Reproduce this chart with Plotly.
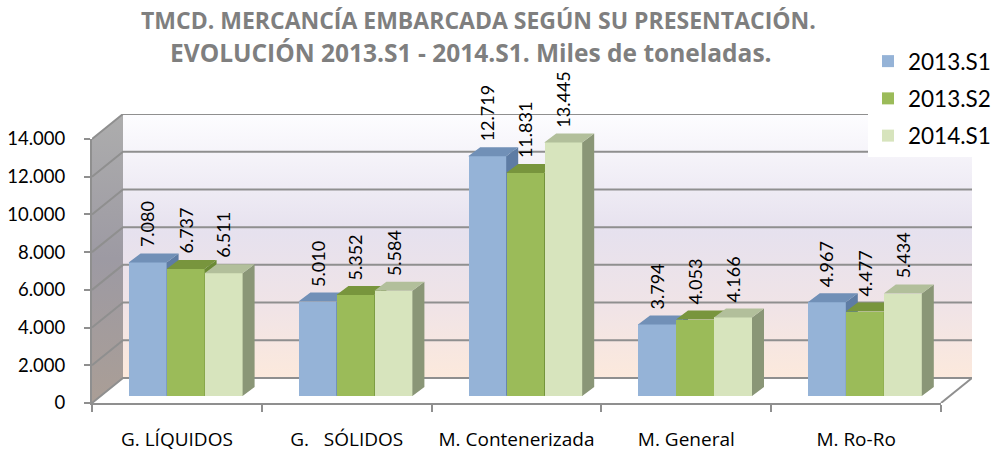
import plotly.graph_objects as go

# ---------------- data ----------------
categories = ["G. LÍQUIDOS", "G.\u00a0\u00a0 SÓLIDOS", "M. Contenerizada", "M. General", "M. Ro-Ro"]
series_names = ["2013.S1", "2013.S2", "2014.S1"]
v_2013_s1 = [7080, 5010, 12719, 3794, 4967]
v_2013_s2 = [6737, 5352, 11831, 4053, 4477]
v_2014_s1 = [6511, 5584, 13445, 4166, 5434]
y_ticks = [0, 2000, 4000, 6000, 8000, 10000, 12000, 14000]
title_line1 = "TMCD. MERCANCÍA EMBARCADA SEGÚN SU PRESENTACIÓN."
title_line2 = "EVOLUCIÓN 2013.S1 - 2014.S1. Miles de toneladas."

series_values = [v_2013_s1, v_2013_s2, v_2014_s1]
front_colors = ["#95b3d7", "#9bbb59", "#d7e4bd"]
top_colors = ["#7190b7", "#78953d", "#b2bf9b"]
side_colors = ["#5e7ca4", "#6b8a35", "#8a9677"]

# ---------------- geometry (pixels) ----------------
W, H = 992, 453
FONT = "Lato"
TFONT = "Open Sans"


def fx(p):
    return p / W


def fy(p):
    return 1 - p / H


FX0, FX1 = 92, 941      # front plane x extent
FY0, FY1 = 403, 139     # front plane y of 0 and of max
YMAX = y_ticks[-1]
NCAT = len(categories)
ux = (FX1 - FX0) / NCAT
uy = (FY0 - FY1) / YMAX
DX, DY = 31, 25           # full depth of the 3D box
dxu, dyu = DX / ux, DY / uy
BX, BY = 8.7, 7           # front of bars (depth position)
BDX, BDY = 12, 9          # depth of each bar
bdxu, bdyu = BDX / ux, BDY / uy
BW = 38 / ux              # bar width in category units

fig = go.Figure()

# ---------------- box (walls, floor, grid) on x/y ----------------
L, R = -0.5, NCAT - 0.5
fig.add_trace(go.Scatter(
    x=[L, R, R, L, L], y=[0, 0, YMAX, YMAX, 0], mode="lines", fill="toself",
    line=dict(width=0), fillgradient=dict(type="vertical", colorscale=[
        [0, "#fce9dc"], [0.25, "#f1e4e6"], [0.55, "#e6e1ee"], [1, "#fdfdff"]]),
    showlegend=False, hoverinfo="skip", xaxis="x", yaxis="y"))
fig.add_trace(go.Scatter(
    x=[L - dxu, L, L, L - dxu, L - dxu], y=[-dyu, 0, YMAX, YMAX - dyu, -dyu],
    mode="lines", fill="toself", line=dict(width=0),
    fillgradient=dict(type="vertical", colorscale=[
        [0, "#aa9e96"], [0.5, "#9d9aa3"], [1, "#adadad"]]),
    showlegend=False, hoverinfo="skip", xaxis="x", yaxis="y"))
fig.add_trace(go.Scatter(
    x=[L - dxu, R - dxu, R, L, L - dxu], y=[-dyu, -dyu, 0, 0, -dyu],
    mode="lines", fill="toself", fillcolor="#ffffff", line=dict(width=0),
    showlegend=False, hoverinfo="skip", xaxis="x", yaxis="y"))
gx, gy = [], []
for v in y_ticks:
    gx += [L - dxu, L, R, None]
    gy += [v - dyu, v, v, None]
gx += [R - dxu, R, None]
gy += [-dyu, 0, None]
fig.add_trace(go.Scatter(
    x=gx, y=gy, mode="lines", line=dict(color="#8f8f8f", width=2),
    showlegend=False, hoverinfo="skip", xaxis="x", yaxis="y"))

# ---------------- bars: one subplot per series (drawing order) ----------------
annotations = []
for s, (name, vals) in enumerate(zip(series_names, series_values)):
    ax = s + 2
    xa, ya = f"x{ax}", f"y{ax}"
    off = (s - 1.5) * BW
    fig.add_trace(go.Bar(
        x=list(range(NCAT)), y=vals, name=name, width=BW, offset=off,
        marker=dict(color=front_colors[s], line=dict(width=0)),
        xaxis=xa, yaxis=ya, legendgroup=name, showlegend=True))
    sx, sy, tx, ty = [], [], [], []
    for i, v in enumerate(vals):
        xl = i + off
        xr = xl + BW
        sx += [xr, xr + bdxu, xr + bdxu, xr, xr, None]
        sy += [0, bdyu, v + bdyu, v, 0, None]
        tx += [xl, xl + bdxu, xr + bdxu, xr, xl, None]
        ty += [v, v + bdyu, v + bdyu, v, v, None]
        annotations.append(dict(
            x=xl + BW / 2, y=v + bdyu, xref=xa, yref=ya,
            text=f"{v:,}".replace(",", "."), textangle=-90, showarrow=False,
            xanchor="center", yanchor="bottom", yshift=4,
            font=dict(family=FONT, size=18, color="#000000")))
    fig.add_trace(go.Scatter(
        x=sx, y=sy, mode="lines", fill="toself", fillcolor=side_colors[s],
        line=dict(width=0), showlegend=False, hoverinfo="skip",
        xaxis=xa, yaxis=ya, cliponaxis=False))
    fig.add_trace(go.Scatter(
        x=tx, y=ty, mode="lines", fill="toself", fillcolor=top_colors[s],
        line=dict(width=0), showlegend=False, hoverinfo="skip",
        xaxis=xa, yaxis=ya, cliponaxis=False))

# ---------------- front axes (ticks and labels) ----------------
fig.add_trace(go.Scatter(x=[0], y=[0], mode="markers", marker=dict(opacity=0),
                         showlegend=False, hoverinfo="skip", xaxis="x5", yaxis="y5"))

hidden = dict(visible=False, showgrid=False, zeroline=False, fixedrange=True)
layout_axes = dict(
    xaxis=dict(hidden, domain=[fx(FX0), fx(FX1 + DX)], range=[L - dxu, R], anchor="y"),
    yaxis=dict(hidden, domain=[fy(FY0), fy(FY1 - DY)], range=[-dyu, YMAX], anchor="x"),
)
for s in range(3):
    ax = s + 2
    layout_axes[f"xaxis{ax}"] = dict(hidden, domain=[fx(FX0 + BX), fx(FX1 + BX)],
                                     range=[L, R], anchor=f"y{ax}")
    layout_axes[f"yaxis{ax}"] = dict(hidden, domain=[fy(FY0 - BY), fy(FY1 - BY)],
                                     range=[0, YMAX], anchor=f"x{ax}")
layout_axes["xaxis5"] = dict(
    domain=[fx(FX0), fx(FX1)], range=[L, R], anchor="y5",
    tickmode="array", tickvals=list(range(NCAT)), ticktext=categories,
    ticks="", showgrid=False, zeroline=False, showline=True,
    linecolor="#8f8f8f", linewidth=2, ticklabelstandoff=18,
    tickfont=dict(family=TFONT, size=19, color="#000000"),
    minor=dict(tickmode="array", tickvals=[i - 0.5 for i in range(NCAT + 1)],
               ticks="outside", ticklen=7, tickwidth=2, tickcolor="#8f8f8f",
               showgrid=False),
    fixedrange=True, automargin=False)
layout_axes["yaxis5"] = dict(
    domain=[fy(FY0), fy(FY1)], range=[0, YMAX], anchor="x5",
    tickmode="array", tickvals=y_ticks, tickformat=",d",
    ticks="outside", ticklen=6, tickwidth=2, tickcolor="#8f8f8f",
    showgrid=False, zeroline=False, showline=True, linecolor="#8f8f8f",
    linewidth=2, ticklabelstandoff=15, automargin=False,
    tickfont=dict(family=FONT, size=18.5, color="#000000"), fixedrange=True)

annotations.append(dict(text=title_line1, x=fx(478), y=fy(20), xref="paper", yref="paper",
                        showarrow=False, xanchor="center", yanchor="middle",
                        font=dict(family=TFONT, size=23, color="#7f7f7f", weight="bold")))
annotations.append(dict(text=title_line2, x=fx(471), y=fy(52), xref="paper", yref="paper",
                        showarrow=False, xanchor="center", yanchor="middle",
                        font=dict(family=TFONT, size=24.5, color="#7f7f7f", weight="bold")))

fig.update_layout(
    width=W, height=H, margin=dict(l=0, r=0, t=0, b=0, autoexpand=False),
    paper_bgcolor="#ffffff", plot_bgcolor="rgba(0,0,0,0)",
    separators=",.", bargap=0,
    annotations=annotations,
    legend=dict(x=fx(868), y=fy(40), xanchor="left", yanchor="top",
                bgcolor="#ffffff", font=dict(family=FONT, size=22.5, color="#000000"),
                traceorder="grouped", tracegroupgap=5, itemwidth=30),
    **layout_axes)

fig.write_html("out.html", config={"displayModeBar": False},
               post_script="document.body.style.margin='0';document.body.style.padding='0';"
                           "document.body.style.overflow='hidden';")
